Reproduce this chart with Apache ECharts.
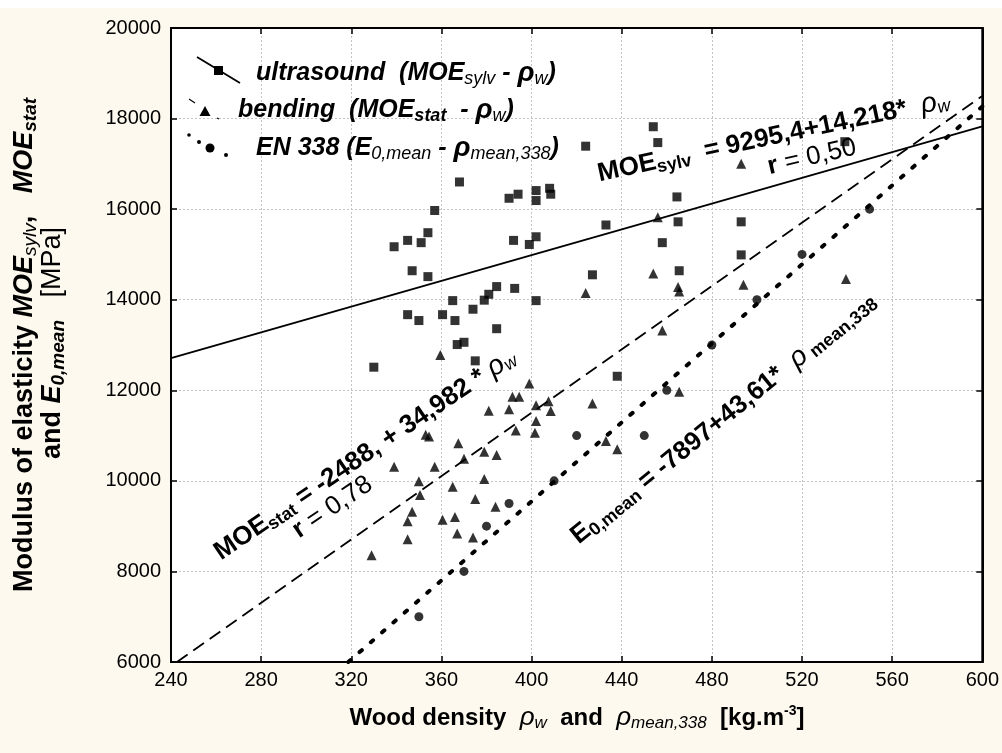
<!DOCTYPE html>
<html>
<head>
<meta charset="utf-8">
<script src="https://cdn.jsdelivr.net/npm/echarts@6/dist/echarts.min.js"></script>
<style>
html, body { margin: 0; padding: 0; background: #fff; }
#chart { width: 1002px; height: 753px; }
</style>
</head>
<body>
<div id="chart"></div>
<script>
// ultrasound: MOE_sylv vs wood density
const ultrasoundDensity = [330, 339, 345, 345, 347, 350, 351, 354, 354, 357, 360.5, 365, 366, 367, 368, 370, 374, 375, 379, 381,
  384.5, 384.5, 390, 392, 392.5, 394, 399, 402, 402, 402, 402, 408, 408.5, 424, 427, 433, 438, 454, 456, 458,
  464.5, 465, 465.5, 493, 493, 539];
const ultrasoundMOE = [12510, 15170, 15310, 13670, 14640, 13540, 15260, 15480, 14510, 15970, 13670, 13980, 13540, 13010, 16600, 13060, 13790, 12650, 13990, 14120,
  14290, 13360, 16240, 15310, 14250, 16330, 15220, 16410, 16190, 15390, 13980, 16460, 16330, 17390, 14550, 15650, 12310, 17820, 17470, 15260,
  16270, 15720, 14640, 15720, 14990, 17490];
// bending: MOE_stat vs wood density
const bendingDensity = [329, 339, 345, 345, 347, 350, 350.5, 353, 354.5, 357, 359.5, 360.5, 365, 366, 367, 367.5, 370, 374, 375, 379,
  379, 381, 384.5, 384, 390, 391.5, 394.5, 393, 399, 401.5, 402, 402, 407.5, 408.5, 424, 427, 433, 438, 454, 456,
  458, 465, 465.5, 465.5, 493, 494, 539.5];
const bendingMOE = [8360, 10310, 9110, 8710, 9320, 9990, 9690, 11020, 10980, 10310, 12780, 9140, 9870, 9200, 8840, 10830, 10490, 8750, 9600, 10640,
  10040, 11550, 10570, 9430, 11580, 11860, 11860, 11110, 12150, 11060, 11670, 11320, 11760, 11540, 14150, 11710, 10880, 10700, 14580, 15820,
  13320, 14280, 14180, 11970, 17000, 14330, 14460];
// EN 338 classes
const en338Density = [350, 370, 380, 390, 410, 420, 450, 460, 480, 500, 520, 550];
const en338E = [7000, 8000, 9000, 9500, 10000, 11000, 11000, 12000, 13000, 14000, 15000, 16000];
// regression lines: ultrasound, bending, EN 338
const fitIntercept = [9295.4, -2488, -7897];
const fitSlope = [14.218, 34.982, 43.61];

const xMin = 240, xMax = 600, xStep = 40;
const yMin = 6000, yMax = 20000, yStep = 2000;

const FF = "'Liberation Sans', Arial, sans-serif";
const pairs = (xs, ys) => xs.map((x, i) => [x, ys[i]]);
const fitLine = i => {
  const x0 = Math.max(xMin, (yMin - fitIntercept[i]) / fitSlope[i]);
  return [[x0, fitIntercept[i] + fitSlope[i] * x0], [xMax, fitIntercept[i] + fitSlope[i] * xMax]];
};

function st(size, weight, style, extra) {
  return Object.assign({ fontSize: size, fontWeight: weight, fontStyle: style, fontFamily: FF, fill: '#000', color: '#000' }, extra || {});
}
const richBig = {
  b: st(26, 'bold', 'normal', { lineHeight: 30 }),
  n: st(26, 'normal', 'normal', { lineHeight: 30 }),
  bi: st(25, 'bold', 'italic', { lineHeight: 30 }),
  bs: st(18, 'bold', 'normal', { verticalAlign: 'bottom', lineHeight: 20 }),
  bis: st(18, 'bold', 'italic', { verticalAlign: 'bottom', lineHeight: 20 }),
  is: st(18, 'normal', 'italic', { verticalAlign: 'bottom', lineHeight: 20 }),
  g: st(28, 'normal', 'italic', { lineHeight: 30 }),
  gb: st(28, 'bold', 'italic', { lineHeight: 30 })
};
const richMid = {
  b: st(24, 'bold', 'normal', { lineHeight: 28 }),
  n: st(24, 'normal', 'normal', { lineHeight: 28 }),
  bi: st(24, 'bold', 'italic', { lineHeight: 28 }),
  bis: st(17, 'bold', 'italic', { verticalAlign: 'bottom', lineHeight: 19 }),
  is: st(17, 'normal', 'italic', { verticalAlign: 'bottom', lineHeight: 19 }),
  g: st(26, 'normal', 'italic', { lineHeight: 28 }),
  sup: st(14, 'bold', 'normal', { verticalAlign: 'top', lineHeight: 14 })
};
const richY = {
  b: st(27, 'bold', 'normal', { lineHeight: 30 }),
  n: st(27, 'normal', 'normal', { lineHeight: 30 }),
  bi: st(27, 'bold', 'italic', { lineHeight: 30 }),
  bis: st(19, 'bold', 'italic', { verticalAlign: 'bottom', lineHeight: 21 }),
  is: st(19, 'normal', 'italic', { verticalAlign: 'bottom', lineHeight: 21 })
};

// rotated text anchored by its left-baseline point
function rotText(text, bx, by, deg, rich) {
  const t = deg * Math.PI / 180;
  const off = 9;
  return {
    type: 'text', x: bx - off * Math.sin(t), y: by - off * Math.cos(t), rotation: t, z: 100,
    style: { text: text, rich: rich, align: 'left', verticalAlign: 'middle', textAlign: 'left', textVerticalAlign: 'middle' }
  };
}
function plainText(text, x, y, rot, rich, align) {
  return {
    type: 'text', x: x, y: y, rotation: rot, z: 100,
    style: { text: text, rich: rich, align: align, verticalAlign: 'middle', textAlign: align, textVerticalAlign: 'middle' }
  };
}

const chart = echarts.init(document.getElementById('chart'));

const axisCommon = {
  type: 'value',
  axisLine: { onZero: false, lineStyle: { color: '#000', width: 2 } },
  axisTick: { inside: true, length: 6, lineStyle: { color: '#000', width: 1.5 } }
};

const option = {
  backgroundColor: '#fdf9ee',
  animation: false,
  grid: { left: 171, right: 19, top: 28, bottom: 91, show: true, backgroundColor: '#fff', borderColor: '#000', borderWidth: 2 },
  xAxis: [
    Object.assign({}, axisCommon, {
      min: xMin, max: xMax, interval: xStep, position: 'bottom',
      axisLabel: { color: '#000', fontSize: 20, fontFamily: FF, margin: 8 },
      splitLine: { show: true, lineStyle: { color: '#c4c4c4', type: [2, 2], width: 1 } }
    }),
    Object.assign({}, axisCommon, {
      min: xMin, max: xMax, interval: xStep, position: 'top',
      axisLabel: { show: false }, splitLine: { show: false }
    })
  ],
  yAxis: [
    Object.assign({}, axisCommon, {
      min: yMin, max: yMax, interval: yStep, position: 'left',
      axisLabel: { color: '#000', fontSize: 20, fontFamily: FF, margin: 10, formatter: v => String(v) },
      splitLine: { show: true, lineStyle: { color: '#c4c4c4', type: [2, 2], width: 1 } }
    }),
    Object.assign({}, axisCommon, {
      min: yMin, max: yMax, interval: yStep, position: 'right',
      axisLabel: { show: false }, splitLine: { show: false }
    })
  ],
  series: [
    {
      name: 'ultrasound', type: 'scatter', symbol: 'rect', symbolSize: 9,
      itemStyle: { color: '#000' }, data: pairs(ultrasoundDensity, ultrasoundMOE), z: 5
    },
    {
      name: 'bending', type: 'scatter', symbol: 'triangle', symbolSize: 10,
      itemStyle: { color: '#000' }, data: pairs(bendingDensity, bendingMOE), z: 5
    },
    {
      name: 'EN 338', type: 'scatter', symbol: 'circle', symbolSize: 9,
      itemStyle: { color: '#000' }, data: pairs(en338Density, en338E), z: 5
    },
    {
      type: 'line', data: fitLine(0), showSymbol: false, silent: true, clip: true,
      lineStyle: { color: '#000', width: 1.8, type: 'solid' }
    },
    {
      type: 'line', data: fitLine(1), showSymbol: false, silent: true, clip: true,
      lineStyle: { color: '#000', width: 1.8, type: [13, 7] }
    },
    {
      type: 'line', data: fitLine(2), showSymbol: false, silent: true, clip: true,
      lineStyle: { color: '#000', width: 4, type: [3, 12], cap: 'round' }
    }
  ],
  graphic: [
    { type: 'rect', shape: { x: 0, y: 0, width: 1002, height: 8 }, style: { fill: '#fff' }, z: 1 },

    // legend samples
    { type: 'line', shape: { x1: 197, y1: 57, x2: 240, y2: 83 }, style: { stroke: '#000', lineWidth: 1.8 }, z: 100 },
    { type: 'rect', shape: { x: 214, y: 66, width: 9, height: 9 }, style: { fill: '#000' }, z: 100 },
    { type: 'line', shape: { x1: 189, y1: 99, x2: 195, y2: 103 }, style: { stroke: '#000', lineWidth: 1.2 }, z: 100 },
    { type: 'polygon', shape: { points: [[205, 106], [210.5, 116], [199.5, 116]] }, style: { fill: '#000' }, z: 100 },
    { type: 'line', shape: { x1: 217, y1: 118, x2: 219, y2: 119 }, style: { stroke: '#000', lineWidth: 1.2 }, z: 100 },
    { type: 'circle', shape: { cx: 189, cy: 135, r: 1.8 }, style: { fill: '#000' }, z: 100 },
    { type: 'circle', shape: { cx: 199, cy: 142, r: 2 }, style: { fill: '#000' }, z: 100 },
    { type: 'circle', shape: { cx: 210, cy: 148, r: 4.5 }, style: { fill: '#000' }, z: 100 },
    { type: 'circle', shape: { cx: 226, cy: 155, r: 2 }, style: { fill: '#000' }, z: 100 },

    plainText('{bi|ultrasound  (MOE}{is|sylv}{bi| - }{gb|ρ}{is|w}{bi|)}', 256, 73, 0, richBig, 'left'),
    plainText('{bi|bending  (MOE}{bis|stat}{bi|  - }{gb|ρ}{is|w}{bi|)}', 238, 110, 0, richBig, 'left'),
    plainText('{bi|EN 338 (E}{is|0,mean}{bi| - }{gb|ρ}{is|mean,338}{bi|)}', 256, 148, 0, richBig, 'left'),

    // regression annotations
    rotText('{b|MOE}{bs|sylv}{b|  = 9295,4+14,218*  }{g|ρ}{is|w}', 600, 183, 12, richBig),
    rotText('{b|r}{n| = 0,50}', 770, 176, 13, richBig),
    rotText('{b|MOE}{bs|stat}{b| = -2488, + 34,982 * }{g|ρ}{is|w}', 222, 562, 34, richBig),
    rotText('{b|r}{n| = 0,78}', 300, 540, 34, richBig),
    rotText('{b|E}{bs|0,mean}{b| = -7897+43,61*  }{g|ρ}{bs| mean,338}', 580, 546, 39, richBig),

    // axis titles
    plainText('{b|Wood density  }{g|ρ}{is|w}{b|  and  }{g|ρ}{is|mean,338}{b|  [kg.m}{sup|-3}{b|]}', 577, 718, 0, richMid, 'center'),
    plainText('{b|Modulus of elasticity }{bi|MOE}{is|sylv}{b|,   }{bi|MOE}{bis|stat}', 25, 345, Math.PI / 2, richY, 'center'),
    plainText('{b|and }{bi|E}{bis|0,mean}{n|   [MPa]}', 53, 343, Math.PI / 2, richY, 'center')
  ]
};

chart.setOption(option);
window.addEventListener('resize', function () {
  chart.resize();
});
</script>
</body>
</html>
